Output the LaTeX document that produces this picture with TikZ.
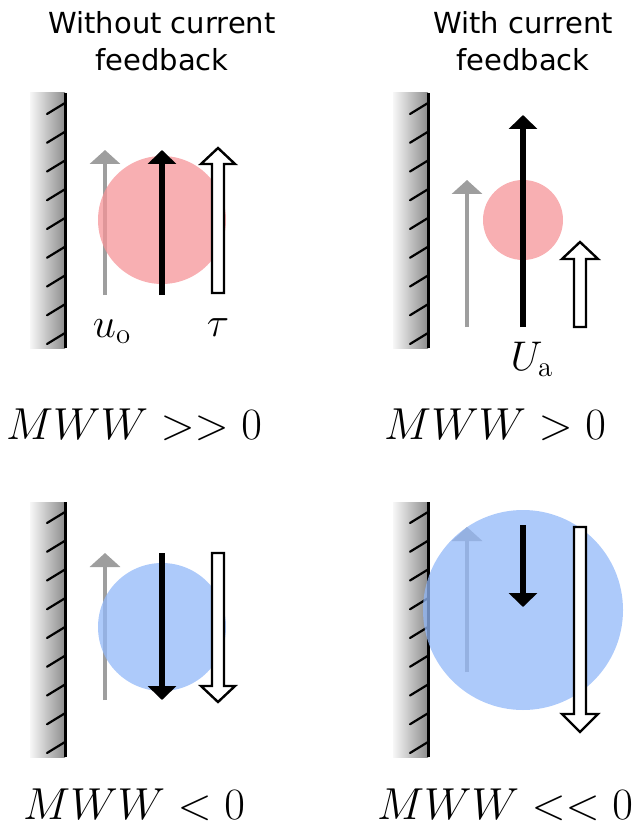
\documentclass[tikz,border=0pt]{standalone}
\usepackage{fontspec}
\newfontfamily\titlefont{DejaVu Sans}
\usetikzlibrary{arrows.meta}
\definecolor{drophot}{RGB}{246,148,152}
\definecolor{dropcold}{RGB}{146,184,248}
\tikzset{wall/.style={left color=black!3,right color=black!45,draw=none},
  hatch/.style={line width=1.1pt,line cap=round},
  uarrow/.style={black!38,line width=2pt,-{Triangle[width=15pt,length=7pt]}},
  Uarrow/.style={black,line width=2.6pt,-{Triangle[width=14pt,length=7pt]}},
  tauarrow/.style={draw=black,fill=white,line width=1.2pt,line join=miter},
  drop/.style={fill opacity=0.75,draw=none},
  mww/.style={font=\Huge,scale=0.9,transform shape,anchor=base,inner sep=0pt},
  lbl/.style={font=\huge,anchor=base,inner sep=0pt},
  title/.style={font=\titlefont\fontsize{14.5}{18.5}\selectfont,align=center,inner sep=0pt}}

\begin{document}
\begin{tikzpicture}[x=0.5pt,y=-0.5pt]
\useasboundingbox (0,0) rectangle (634,828);
% --- walls
\foreach \wx/\wy in {30/93,393/93,30/502,393/502}{
  \fill[wall] (\wx,\wy) rectangle ++(35,255);
  \draw[line width=1.5pt] (\wx+35,\wy) -- ++(0,255);
  \foreach \k in {0,...,8} \draw[hatch] (\wx+35,\wy+10+28.75*\k) -- ++(-18,11);
}
% --- headers
\node[title] (t1) at (162,41) {Without current\\feedback};
\node[title] (t2) at (523,41) {With current\\feedback};
% --- top left: no feedback, positive
\draw[uarrow] (105,295) -- (105,150);
\fill[drop,drophot] (162,220) circle (64);
\draw[Uarrow] (162,295) -- (162,150);
\draw[tauarrow] (212,293) -- (212,164) -- (201,164) -- (218,148) -- (235,164) -- (224,164) -- (224,293) -- cycle;
\node[lbl] (uo) at (112,337) {$u_{\mathrm{o}}$};
\node[lbl] (tau) at (218,336) {$\tau$};
\node[mww] (m1) at (134,439) {$MWW >> 0$};
% --- top right: feedback, positive
\draw[uarrow] (467,327) -- (467,180);
\fill[drop,drophot] (523,220) circle (40);
\draw[Uarrow] (523,327) -- (523,115);
\draw[tauarrow] (574,327) -- (574,259) -- (562,259) -- (580,242) -- (598,259) -- (586,259) -- (586,327) -- cycle;
\node[lbl] (ua) at (532,370) {$U_{\mathrm{a}}$};
\node[mww] (m2) at (495,439) {$MWW > 0$};
% --- bottom left: no feedback, negative
\draw[uarrow] (105,700) -- (105,553);
\fill[drop,dropcold] (162,627) circle (64);
\draw[Uarrow] (162,553) -- (162,700);
\draw[tauarrow] (212,553) -- (212,686) -- (201,686) -- (218,702) -- (235,686) -- (224,686) -- (224,553) -- cycle;
\node[mww] (m3) at (134,819) {$MWW < 0$};
% --- bottom right: feedback, negative
\draw[uarrow] (467,672) -- (467,527);
\fill[drop,dropcold] (523,610) circle (100);
\draw[Uarrow] (523,525) -- (523,607);
\draw[tauarrow] (574,527) -- (574,714) -- (562,714) -- (580,732) -- (598,714) -- (586,714) -- (586,527) -- cycle;
\node[mww] (m4) at (505,819) {$MWW << 0$};
\end{tikzpicture}
\end{document}
